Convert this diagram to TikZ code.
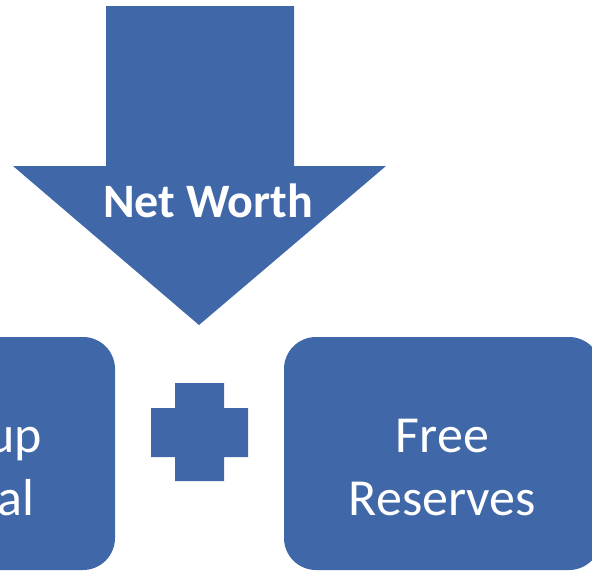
\documentclass[tikz,border=0pt]{standalone}
\usepackage{fontspec}
\setmainfont{Carlito}
\definecolor{nwblue}{RGB}{64,103,168}
\tikzset{
  shapefill/.style={fill=nwblue, draw=none},
  roundbox/.style={shapefill, rectangle, rounded corners=32pt, minimum width=317pt, minimum height=233pt, inner sep=0pt},
  boxtext/.style={text=white, align=center, anchor=base, inner sep=0pt, font=\fontsize{52}{63}\selectfont},
  headtext/.style={text=white, anchor=base, inner sep=0pt, font=\bfseries\fontsize{48}{58}\selectfont}
}
\begin{document}
\begin{tikzpicture}[x=1pt,y=-1pt]
\useasboundingbox (0,0) rectangle (592,571);
\clip (0,0) rectangle (592,571);
% down arrow
\fill[shapefill] (106,6) -- (294,6) -- (294,166) -- (386,166) -- (199,325) coordinate (tip) -- (13,166) -- (106,166) -- cycle;
\node[headtext] (nw) at (208,217) {Net Worth};
% boxes
\node[roundbox] (left) at (-43.5,453.5) {};
\node[roundbox] (right) at (442.5,453.5) {};
\node[boxtext] (lefttext) at (-38,515) {Paid-up\\Capital};
\node[boxtext] (righttext) at (442.5,515) {Free\\Reserves};
% plus sign
\fill[shapefill] (175,383) -- (224,383) -- (224,408) -- (248,408) -- (248,457) -- (224,457) -- (224,481) -- (175,481) -- (175,457) -- (151,457) -- (151,408) -- (175,408) -- cycle;
\end{tikzpicture}
\end{document}
